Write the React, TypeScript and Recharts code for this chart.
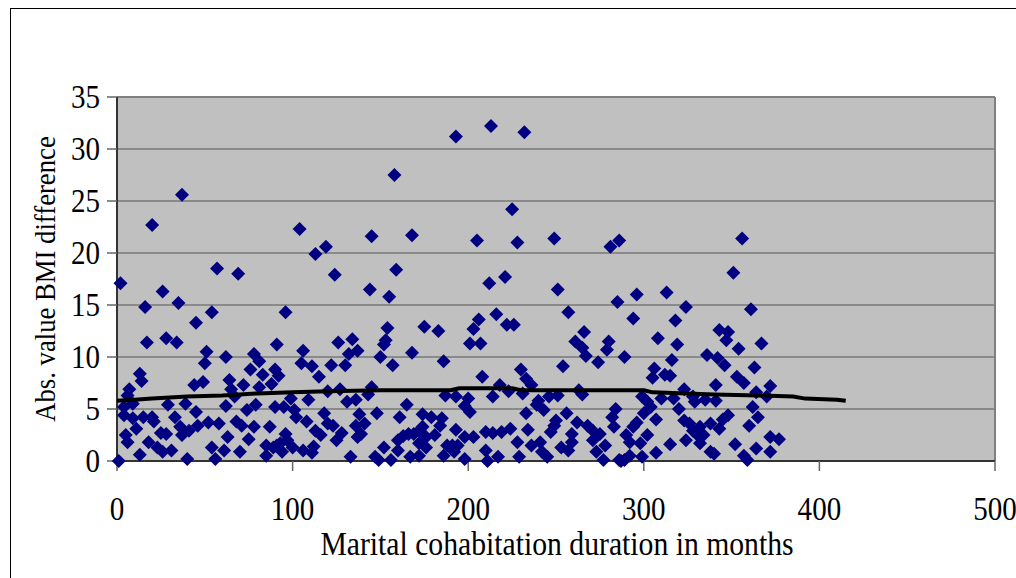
import React from 'react';
import { ScatterChart, Scatter, XAxis, YAxis, CartesianGrid, ReferenceLine } from 'recharts';

const FONT = '"Liberation Serif", "Times New Roman", serif';

const xTicks = [0, 100, 200, 300, 400, 500];
const yTicks = [0, 5, 10, 15, 20, 25, 30, 35];

// marital cohabitation duration (months) and abs. BMI difference
const months = [
  37, 20, 57, 69, 2, 26, 35, 16, 54, 45, 17, 28, 34, 51, 62, 50, 78, 81, 76, 90, 91, 13, 14, 7, 6, 9,
  49, 44, 64, 72, 65, 67, 83, 88, 81, 4, 4, 9, 15, 20, 21, 11, 5, 6, 13, 1, 18, 23, 25, 28, 26, 31,
  29, 33, 36, 37, 41, 45, 46, 39, 52, 58, 62, 54, 56, 61, 63, 40, 70, 68, 71, 75, 78, 74, 79, 87,
  85, 85, 91, 90,
  158, 104, 145, 168, 119, 113, 124, 159, 144, 155, 96, 154, 175, 183, 153, 152, 126, 134, 106, 132,
  137, 150, 168, 186, 105, 111, 122, 130, 157, 92, 115, 120, 127, 145, 187, 109, 131, 136, 143, 165,
  99, 95, 101, 102, 108, 118, 138, 148, 161, 174, 179, 185, 184, 120, 123, 136, 141, 113, 116, 128,
  125, 137, 139, 96, 97, 93, 89, 94, 100, 106, 111, 112, 133, 147, 149, 152, 156, 160, 160, 163, 166,
  169, 172, 174, 176, 172, 167, 172, 176, 181, 186, 188,
  193, 213, 232, 225, 205, 228, 249, 281, 286, 212, 221, 251, 285, 216, 257, 206, 203, 222, 226, 266,
  201, 207, 261, 265, 280, 279, 267, 274, 254, 230, 208, 233, 236, 218, 223, 214, 231, 193, 200, 198,
  201, 240, 239, 246, 251, 263, 265, 243, 233, 256, 284, 282, 193, 210, 214, 219, 224, 234, 249, 250,
  247, 262, 259, 268, 271, 275, 283, 203, 198, 194, 191, 192, 198, 210, 211, 217, 228, 229, 236, 241,
  242, 245, 253, 257, 259, 271, 278, 273, 277, 286,
  356, 351, 296, 313, 324, 361, 294, 318, 343, 348, 347, 367, 308, 319, 354, 336, 342, 346, 289, 316,
  363, 306, 312, 305, 315, 353, 357, 341, 364, 372, 370, 323, 299, 310, 317, 328, 329, 335, 341, 302,
  304, 300, 320, 362, 365, 348, 307, 323, 296, 294, 338, 326, 332, 343, 345, 360, 328, 330, 334, 290,
  302, 292, 298, 324, 332, 372, 377, 315, 352, 364, 372, 307, 338, 340, 357, 359, 299, 292, 287, 289,
];

const bmiDiff = [
  25.6, 22.7, 18.5, 18.0, 17.1, 16.3, 15.2, 14.8, 14.3, 13.3, 11.4, 11.8, 11.4, 10.5, 10.0, 9.4, 10.3, 9.6, 8.8, 8.8, 11.2, 8.4, 7.7, 6.9, 6.3, 5.5,
  7.6, 7.3, 7.8, 7.3, 6.9, 6.2, 8.3, 7.4, 7.1, 5.2, 4.4, 4.1, 4.2, 4.2, 3.8, 3.1, 2.5, 1.8, 0.6, 0.0, 1.8, 1.3, 2.7, 2.6, 0.9, 1.0,
  5.4, 4.2, 3.3, 2.5, 2.9, 4.7, 3.4, 5.5, 3.7, 3.6, 5.3, 1.3, 0.2, 1.0, 2.3, 0.2, 0.9, 3.8, 3.4, 2.1, 3.3, 4.9, 5.4, 3.3,
  1.5, 0.5, 1.5, 5.2,
  27.5, 22.3, 21.6, 21.7, 20.6, 19.9, 17.9, 18.4, 16.5, 15.8, 14.3, 12.8, 12.9, 12.5, 11.6, 11.2, 11.4, 11.7, 10.6, 10.3,
  10.6, 10.0, 10.4, 9.6, 9.4, 9.1, 9.2, 9.2, 9.2, 8.2, 8.1, 6.7, 6.9, 7.1, 6.3, 5.9, 5.7, 5.9, 6.4, 5.4,
  6.0, 5.2, 4.9, 4.2, 3.8, 4.6, 4.5, 4.6, 4.2, 4.5, 4.2, 4.1, 3.4, 3.6, 3.4, 3.4, 3.6, 2.9, 2.5, 2.7,
  2.0, 2.3, 2.6, 2.6, 2.0, 1.7, 1.3, 0.9, 1.3, 1.0, 0.8, 1.4, 0.4, 0.4, 0.1, 1.3, 0.1, 2.0, 1.0, 2.4, 2.6,
  2.6, 2.9, 3.3, 2.3, 1.7, 0.4, 0.5, 1.3, 2.5, 0.5, 1.5,
  31.2, 32.2, 31.6, 24.2, 21.2, 21.0, 21.4, 20.6, 21.2, 17.1, 17.7, 16.5, 15.3, 14.1, 14.3, 13.6, 12.7, 13.1, 13.1, 12.4,
  11.3, 11.3, 11.5, 10.9, 11.5, 10.7, 10.1, 9.5, 9.1, 8.8, 8.1, 7.9, 7.3, 7.3, 6.7, 6.2, 6.5, 6.2, 6.0, 5.3,
  4.7, 5.8, 5.4, 6.2, 6.3, 6.8, 6.4, 4.9, 4.6, 4.6, 5.0, 4.2, 3.0, 2.8, 2.7, 2.8, 3.1, 3.0, 3.4, 3.9,
  2.8, 3.7, 2.6, 3.4, 2.9, 2.6, 3.3, 2.3, 2.3, 1.5, 1.5, 0.9, 0.2, 1.0, 0.0, 0.4, 1.8, 0.4, 1.5, 1.8,
  0.9, 0.4, 1.3, 1.0, 1.8, 2.0, 1.5, 0.9, 0.1, 0.1,
  21.4, 18.1, 16.0, 16.2, 14.8, 14.6, 13.7, 13.5, 12.6, 12.4, 11.6, 11.3, 11.8, 11.2, 10.8, 10.2, 9.9, 9.2, 10.0, 9.7,
  9.0, 8.9, 8.3, 8.0, 8.2, 8.1, 7.5, 7.3, 6.6, 7.2, 6.2, 6.9, 6.2, 6.0, 6.0, 6.2, 5.7, 5.9, 5.8, 5.7,
  5.2, 4.6, 5.0, 5.2, 4.2, 4.4, 4.0, 3.9, 3.7, 3.3, 3.6, 3.6, 3.3, 3.1, 4.0, 3.4, 2.9, 2.6, 2.5, 2.5,
  2.5, 1.8, 1.7, 2.0, 1.7, 2.3, 2.1, 1.6, 1.6, 1.2, 0.9, 0.8, 0.9, 0.7, 0.5, 0.1, 0.4, 0.5, 0.0, 0.1,
];

// moving-average trend line
const trendMonths = [0, 10, 20, 40, 60, 80, 100, 120, 150, 190, 195, 225, 230, 300, 305, 340, 365, 385, 392, 410, 415];
const trendValues = [5.8, 5.9, 6.0, 6.2, 6.3, 6.5, 6.6, 6.7, 6.8, 6.8, 7.0, 7.0, 6.8, 6.8, 6.6, 6.4, 6.3, 6.2, 6.0, 5.9, 5.8];

const points = months.map((m, i) => ({ x: m, y: bmiDiff[i] }));
const trend = trendMonths.map((m, i) => ({ x: m, y: trendValues[i] }));

const Diamond = (props: any) => {
  const { cx, cy } = props;
  const r = 7;
  return <path d={`M${cx},${cy - r}L${cx + r},${cy}L${cx},${cy + r}L${cx - r},${cy}Z`} fill="#000080" />;
};

const XTick = (props: any) => {
  const { x, y, payload } = props;
  return (
    <g transform={`translate(${x},${y}) scale(0.88,1)`}>
      <text x={0} y={49} textAnchor="middle" fontFamily={FONT} fontSize={33} fill="#000">
        {payload.value}
      </text>
    </g>
  );
};

const YTick = (props: any) => {
  const { x, y, payload } = props;
  return (
    <g transform={`translate(${x - 7},${y}) scale(0.88,1)`}>
      <text x={0} y={11} textAnchor="end" fontFamily={FONT} fontSize={33} fill="#000">
        {payload.value}
      </text>
    </g>
  );
};

const XTitle = () => (
  <g transform="translate(557,555) scale(0.9,1)">
    <text x={0} y={0} textAnchor="middle" fontFamily={FONT} fontSize={33} fill="#000">
      Marital cohabitation duration in months
    </text>
  </g>
);

const YTitle = () => (
  <g transform="translate(45,279) rotate(-90) scale(0.89,1)">
    <text x={0} y={10} textAnchor="middle" fontFamily={FONT} fontSize={30} fill="#000">
      Abs. value BMI difference
    </text>
  </g>
);

export default function App() {
  return (
    <div style={{ position: 'absolute', left: 0, top: 0, width: 1016, height: 578, background: '#fff', overflow: 'hidden' }}>
      <div
        style={{
          position: 'absolute',
          left: 10,
          top: 8,
          width: 1020,
          height: 600,
          borderLeft: '1px solid #000',
          borderTop: '1px solid #000',
        }}
      />
      <div style={{ position: 'absolute', left: 0, top: 0 }}>
        <ScatterChart width={1016} height={578} margin={{ top: 97, right: 21, bottom: 0, left: 0 }}>
          <CartesianGrid vertical={false} stroke="#555" strokeWidth={1} fill="#C0C0C0" />
          <XAxis
            type="number"
            dataKey="x"
            domain={[0, 500]}
            ticks={xTicks}
            interval={0}
            height={117}
            tickSize={10}
            tickMargin={0}
            tick={<XTick />}
            tickLine={{ stroke: '#666', strokeWidth: 1.5 }}
            axisLine={{ stroke: '#333', strokeWidth: 2 }}
            label={{ content: () => <XTitle /> }}
          />
          <YAxis
            type="number"
            dataKey="y"
            domain={[0, 35]}
            ticks={yTicks}
            interval={0}
            width={117}
            tickSize={10}
            tickMargin={0}
            tick={<YTick />}
            tickLine={{ stroke: '#666', strokeWidth: 1.5 }}
            axisLine={{ stroke: '#333', strokeWidth: 2 }}
            label={{ content: () => <YTitle /> }}
          />
          <ReferenceLine y={35} stroke="#808080" strokeWidth={2} />
          <ReferenceLine x={500} stroke="#808080" strokeWidth={2} />
          <Scatter data={points} shape={<Diamond />} isAnimationActive={false} />
          <Scatter
            data={trend}
            line={{ stroke: '#000', strokeWidth: 4, strokeLinejoin: 'round' }}
            lineType="joint"
            shape={() => <g />}
            isAnimationActive={false}
          />
        </ScatterChart>
      </div>
    </div>
  );
}
